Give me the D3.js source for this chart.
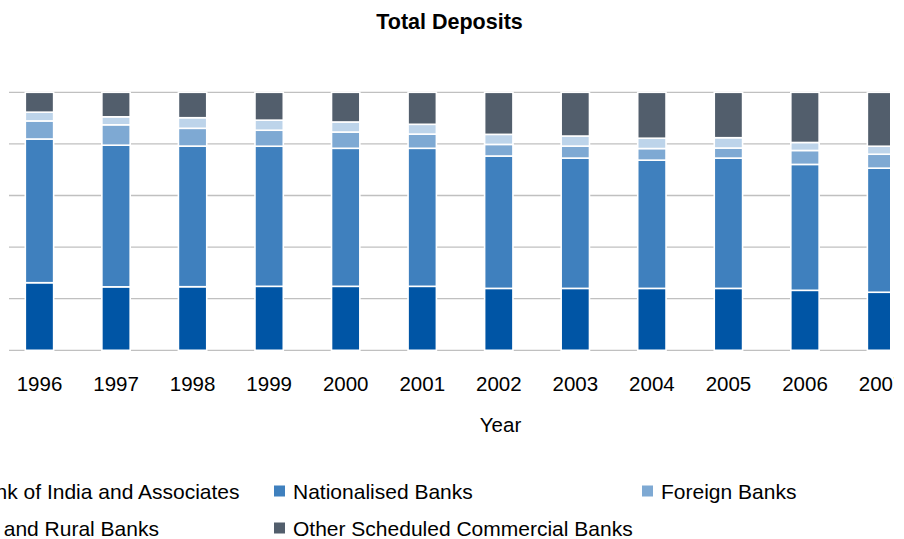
<!DOCTYPE html>
<meta charset="utf-8">
<style>
  body { margin: 0; background: #fff; }
  text { font-family: "Liberation Sans", Arial, sans-serif; }
</style>
<svg width="904" height="539"></svg>
<script src="https://d3js.org/d3.v7.min.js"></script>
<script>

    // share of total deposits (%)
    var years = ["1996", "1997", "1998", "1999", "2000", "2001", "2002", "2003", "2004", "2005", "2006", "2007"];
    var sbi = [26.2, 24.6, 24.65, 24.8, 24.8, 24.8, 24.0, 24.0, 24.0, 24.0, 23.25, 22.5];
    var nationalised = [55.7, 54.9, 54.5, 54.3, 53.5, 53.5, 51.3, 50.5, 49.7, 50.5, 48.8, 48.1];
    var foreign = [7.0, 7.9, 6.9, 6.2, 6.3, 5.5, 4.5, 4.65, 4.5, 3.9, 5.4, 5.4];
    var rrb = [3.4, 3.1, 4.1, 3.9, 3.9, 3.8, 3.9, 3.9, 4.0, 4.0, 3.1, 3.1];
    var other = [7.7, 9.5, 9.85, 10.8, 11.5, 12.4, 16.3, 16.95, 17.8, 17.6, 19.45, 20.9];

    var seriesNames = ["State Bank of India and Associates", "Nationalised Banks", "Foreign Banks",
        "Regional and Rural Banks", "Other Scheduled Commercial Banks"];
    var colors = ["#0055a5", "#3f80be", "#7ea9d3", "#bdd4ea", "#525e6c"];

    var rows = years.map(function (y, i) {
        return { year: y, s0: sbi[i], s1: nationalised[i], s2: foreign[i], s3: rrb[i], s4: other[i] };
    });

    var svg = d3.select("svg");

    var x = d3.scaleBand()
        .domain(years)
        .range([1.2, 919.8])
        .paddingInner(0.63)
        .paddingOuter(0.315);

    var y = d3.scaleLinear()
        .domain([0, 1])
        .range([350.3, 92.3]);

    var stack = d3.stack()
        .keys(["s0", "s1", "s2", "s3", "s4"])
        .offset(d3.stackOffsetExpand);
    var layers = stack(rows);

    var defs = svg.append("defs");
    defs.append("clipPath").attr("id", "plotclip")
        .append("rect").attr("x", 0).attr("y", 0).attr("width", 890).attr("height", 539);
    defs.append("clipPath").attr("id", "labelclip")
        .append("rect").attr("x", 0).attr("y", 0).attr("width", 894).attr("height", 539);

    // title
    svg.append("text")
        .attr("x", 449.5)
        .attr("y", 29)
        .attr("text-anchor", "middle")
        .style("font-size", "21.5px")
        .style("font-weight", "bold")
        .text("Total Deposits");

    var plot = svg.append("g").attr("clip-path", "url(#plotclip)");

    // gridlines
    plot.append("g")
        .selectAll("line")
        .data(y.ticks(5))
        .enter().append("line")
        .attr("x1", 9)
        .attr("x2", 904)
        .attr("y1", function (d) { return y(d); })
        .attr("y2", function (d) { return y(d); })
        .attr("stroke", "#c0c0c0")
        .attr("stroke-width", 1.3);

    // stacked bars
    plot.selectAll("g.layer")
        .data(layers)
        .enter().append("g")
        .attr("class", "layer")
        .attr("fill", function (d, i) { return colors[i]; })
        .selectAll("rect")
        .data(function (d) { return d; })
        .enter().append("rect")
        .attr("x", function (d) { return x(d.data.year); })
        .attr("width", x.bandwidth())
        .attr("y", function (d) { return y(d[1]); })
        .attr("height", function (d) { return y(d[0]) - y(d[1]); })
        .attr("stroke", "#fff")
        .attr("stroke-width", 1.6);

    // x axis labels
    var xAxis = svg.append("g")
        .attr("clip-path", "url(#labelclip)")
        .attr("transform", "translate(0,350.3)")
        .call(d3.axisBottom(x).tickSize(0).tickPadding(26));
    xAxis.select(".domain").remove();
    xAxis.selectAll("text")
        .attr("fill", "#000")
        .style("font-family", "Liberation Sans, Arial, sans-serif")
        .style("font-size", "20.5px");

    svg.append("text")
        .attr("x", 500.5)
        .attr("y", 432)
        .attr("text-anchor", "middle")
        .style("font-size", "20.5px")
        .text("Year");

    // legend, three columns
    var legendX = [-104, 274, 642];
    var legendY = [491, 528];
    var legend = svg.append("g")
        .selectAll("g")
        .data(seriesNames)
        .enter().append("g")
        .attr("transform", function (d, i) {
            return "translate(" + legendX[i % 3] + "," + legendY[Math.floor(i / 3)] + ")";
        });
    legend.append("rect")
        .attr("x", 0)
        .attr("y", -5.5)
        .attr("width", 11)
        .attr("height", 11)
        .attr("fill", function (d, i) { return colors[i]; });
    legend.append("text")
        .attr("x", 19)
        .attr("y", 7.5)
        .style("font-size", "21px")
        .text(function (d) { return d; });

</script>
